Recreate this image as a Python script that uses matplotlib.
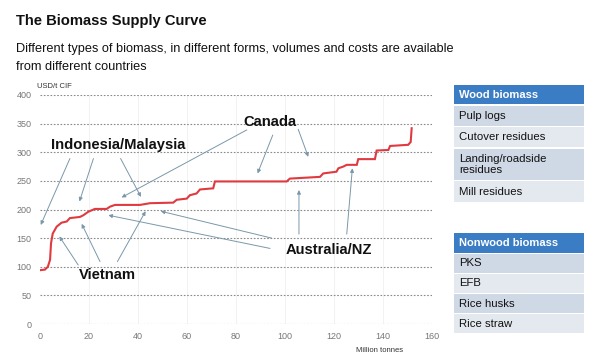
import matplotlib
matplotlib.use('Agg')
import matplotlib.pyplot as plt
from matplotlib.patches import Rectangle

plt.rcParams['font.family'] = ['Liberation Sans', 'DejaVu Sans']

# //--------------------------< data >--------------------------\\

# cumulative volume (Million tonnes) vs cost (USD/t CIF)
volume = [0, 2.0, 3.2, 4.1, 4.5, 5.2, 6.8, 8.8, 10.9, 12.2, 16.3, 17.7, 19.7, 22.4,
          27.2, 28.6, 30.6, 40.8, 44.9, 54.4, 55.8, 59.9, 61.2, 63.9, 65.3, 70.7,
          71.4, 100.7, 102.0, 114.3, 115.6, 121.0, 121.8, 123.8, 125.2, 129.3,
          129.9, 136.7, 137.4, 142.2, 142.9, 150.3, 151.3, 151.7]
cost = [94, 95, 100, 112, 141, 158, 170, 177, 179, 185, 187, 190, 196, 201,
        201, 205, 208, 208, 211, 212, 217, 219, 225, 228, 235, 237,
        249, 249, 254, 257, 263, 266, 272, 275, 278, 278,
        288, 288, 303, 304, 311, 313, 318, 342]

x_ticks = [0, 20, 40, 60, 80, 100, 120, 140, 160]
y_ticks = [0, 50, 100, 150, 200, 250, 300, 350, 400]

# label text, label position, arrow tips
countries = ['Indonesia/Malaysia', 'Canada', 'Vietnam', 'Australia/NZ']
label_pos = [(32, 313), (94, 353), (27.5, 86), (117.7, 129)]
arrow_from = [
    [(12.2, 289), (21.8, 289), (32.9, 289)],
    [(84.4, 339), (95, 330), (105.4, 340)],
    [(15.6, 103), (24.5, 109), (31.6, 109)],
    [(94.6, 150), (93.9, 132), (105.7, 157), (125.2, 157)],
]
arrow_to = [
    [(0.3, 173), (16.1, 214), (41.2, 222)],
    [(33.3, 221), (88.8, 263), (109.5, 292)],
    [(7.9, 153), (17, 175), (43.1, 197)],
    [(49.3, 197), (27.9, 190), (105.7, 234), (127.5, 272)],
]

wood_header = 'Wood biomass'
wood_rows = ['Pulp logs', 'Cutover residues', 'Landing/roadside\nresidues', 'Mill residues']
nonwood_header = 'Nonwood biomass'
nonwood_rows = ['PKS', 'EFB', 'Rice husks', 'Rice straw']

# //--------------------------< figure >--------------------------\\

fig = plt.figure(figsize=(6, 3.63), dpi=100)
fig.patch.set_facecolor('white')

fig.text(16 / 600, 1 - 21 / 363, 'The Biomass Supply Curve', fontsize=10.6,
         fontweight='bold', va='center', ha='left', color='#111111')
fig.text(16 / 600, 1 - 49 / 363, 'Different types of biomass, in different forms, volumes and costs are available',
         fontsize=9.2, va='center', ha='left', color='#111111')
fig.text(16 / 600, 1 - 67 / 363, 'from different countries',
         fontsize=9.2, va='center', ha='left', color='#111111')
fig.text(37 / 600, 1 - 86 / 363, 'USD/t CIF', fontsize=5.5, va='center', ha='left', color='#333333')

ax = fig.add_axes([40 / 600, 1 - 324 / 363, 392 / 600, 229 / 363])
ax.set_xlim(0, 160)
ax.set_ylim(0, 400)
for s in ax.spines.values():
    s.set_visible(False)
ax.set_xticks(x_ticks)
ax.set_yticks(y_ticks)
ax.tick_params(length=0, labelsize=6.5, labelcolor='#777777', pad=6)
for y in y_ticks:
    ax.axhline(y, color='#8a8a8a', lw=0.8, ls=(0, (1.5, 1.5)), zorder=1)
for x in x_ticks[1:]:
    ax.axvline(x, color='#f0f0f0', lw=0.6, zorder=0)

ax.plot(volume, cost, color='#e03a40', lw=1.5, zorder=3, solid_joinstyle='miter')

for i in range(len(countries)):
    ax.text(label_pos[i][0], label_pos[i][1], countries[i], fontsize=10.6, fontweight='bold',
            ha='center', va='center', color='#111111', zorder=4)
    for (x0, y0), (x1, y1) in zip(arrow_from[i], arrow_to[i]):
        ax.annotate('', xy=(x1, y1), xytext=(x0, y0),
                    arrowprops=dict(arrowstyle='-|>', color='#7a98aa', lw=0.7,
                                    mutation_scale=5.5, shrinkA=0, shrinkB=0), zorder=2)

fig.text(380 / 600, 1 - 351 / 363, 'Million tonnes', fontsize=5.5, ha='center', va='center', color='#333333')

# //--------------------------< side tables >--------------------------\\

tab = fig.add_axes([0, 0, 1, 1])
tab.set_xlim(0, 600)
tab.set_ylim(363, 0)
tab.axis('off')
tab.patch.set_alpha(0)


def draw_table(top, header, rows, heights):
    left, width = 454, 130
    tab.add_patch(Rectangle((left, top), width, 19.5, facecolor='#3b7dc4', edgecolor='none'))
    tab.text(left + 5, top + 10, header, fontsize=8, fontweight='bold', color='white', va='center')
    y = top + 21
    for k, (r, h) in enumerate(zip(rows, heights)):
        col = '#cfd9e5' if k % 2 == 0 else '#e4e9f0'
        tab.add_patch(Rectangle((left, y), width, h, facecolor=col, edgecolor='none'))
        tab.text(left + 5, y + h / 2, r, fontsize=8.2, color='#111111', va='center', linespacing=1.1)
        y += h + 1.2


draw_table(84.7, wood_header, wood_rows, [20, 20.5, 31.5, 21])
draw_table(233, nonwood_header, nonwood_rows, [18.5, 19, 19.3, 18.5])

plt.savefig('out.png', dpi=100)
